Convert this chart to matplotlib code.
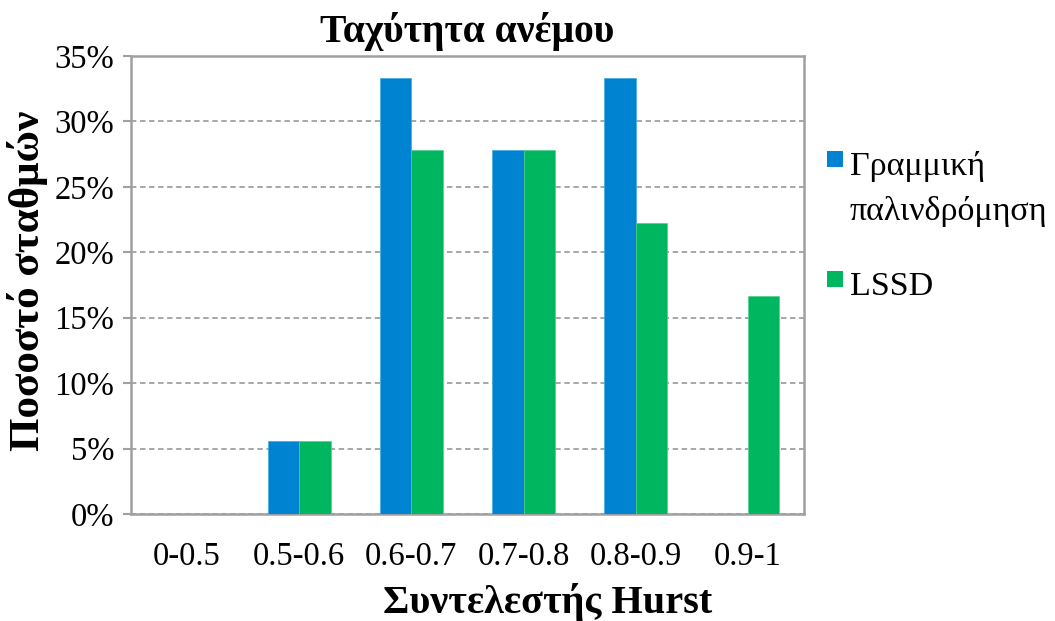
import matplotlib
matplotlib.use("Agg")
import matplotlib.pyplot as plt
import numpy as np
from matplotlib.ticker import FuncFormatter
from matplotlib.patches import Rectangle

categories = ["0-0.5", "0.5-0.6", "0.6-0.7", "0.7-0.8", "0.8-0.9", "0.9-1"]
linear_regression = [0.0, 5.56, 33.33, 27.78, 33.33, 0.0]
lssd = [0.0, 5.56, 27.78, 27.78, 22.22, 16.67]
series_names = ["Γραμμική\nπαλινδρόμηση", "LSSD"]
yticks = [0, 5, 10, 15, 20, 25, 30, 35]

serif = ["Liberation Serif", "DejaVu Serif"]
plt.rcParams["font.family"] = serif

W, H = 1055, 621
fig = plt.figure(figsize=(W / 100, H / 100), dpi=100)
ax = fig.add_axes([131 / W, 1 - 514 / H, 673 / W, 458 / H])

x = np.arange(len(categories))
w = 0.28
colors = ["#0084D1", "#00B760"]
ax.bar(x - w / 2, linear_regression, w, color=colors[0], edgecolor="#3fa8e0", linewidth=0.5, zorder=3)
ax.bar(x + w / 2, lssd, w, color=colors[1], edgecolor="#4fd08f", linewidth=0.5, zorder=3)

ax.set_xlim(-0.5, len(categories) - 0.5)
ax.set_ylim(0, 35)
ax.set_yticks(yticks)
ax.yaxis.set_major_formatter(FuncFormatter(lambda v, p: f"{v:.0f}%"))
ax.set_xticks(x)
ax.set_xticklabels(categories)
ax.tick_params(axis="x", length=0, labelsize=23.5, pad=20)
ax.tick_params(axis="y", length=6, width=1.5, color="#a0a0a0", labelsize=23.5, pad=6)

ax.yaxis.grid(True, color="#a0a0a0", linestyle=(0, (3, 2)), linewidth=1.3, zorder=0)
for s in ax.spines.values():
    s.set_color("#a0a0a0")
    s.set_linewidth(1.8)

ax.set_title("Ταχύτητα ανέμου", fontsize=28.5, fontweight="bold", pad=10)
ax.set_xlabel("Συντελεστής Hurst", fontsize=29, fontweight="bold")
ax.xaxis.set_label_coords((548 - 131) / 673, -(603 - 514) / 458)
ax.xaxis.label.set_va("center")
ax.set_ylabel("Ποσοστό σταθμών", fontsize=31, fontweight="bold")
ax.yaxis.set_label_coords(-(131 - 28) / 673, 0.51)
ax.yaxis.label.set_va("center")

# Legend: square swatch beside the first line of each entry
entry_baselines = [175, 295]   # pixel rows of the first text line
line_step = 45
swatch = 16
for name, color, base in zip(series_names, colors, entry_baselines):
    fig.patches.append(Rectangle((827 / W, 1 - (base - 8) / H), swatch / W, swatch / H,
                                 transform=fig.transFigure, facecolor=color, edgecolor="none"))
    for i, line in enumerate(name.split("\n")):
        fig.text(850 / W, 1 - (base + i * line_step) / H, line, fontsize=24.5,
                 family="Liberation Serif", ha="left", va="baseline")

fig.savefig("out.png", dpi=100)
